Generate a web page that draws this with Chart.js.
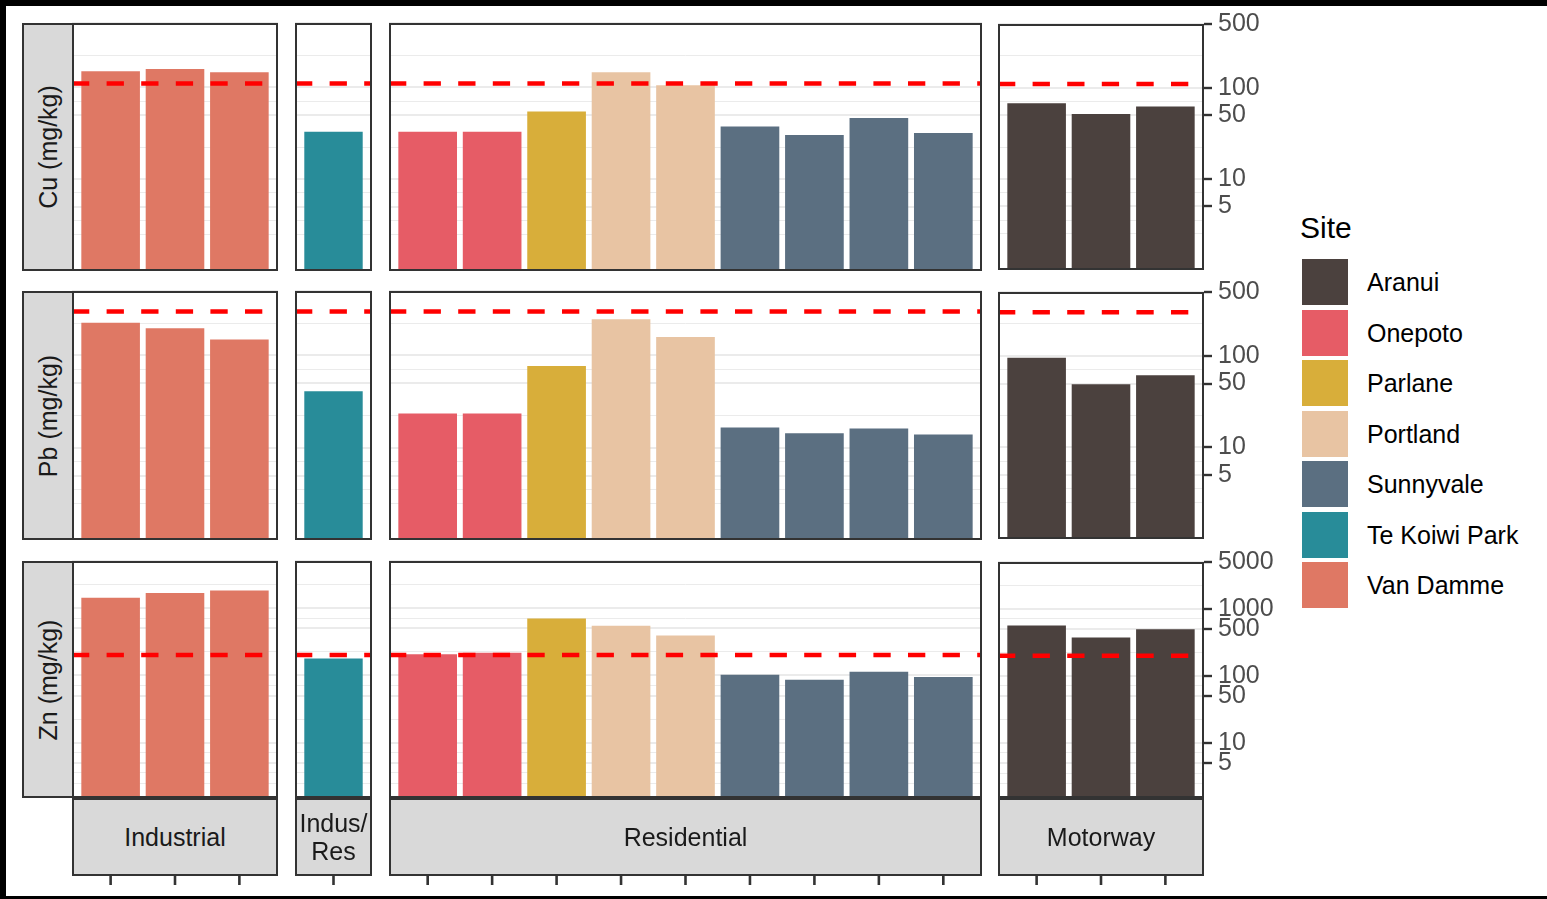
<!DOCTYPE html>
<html>
<head>
<meta charset="utf-8">
<title>Heavy metals by site</title>
<script src="https://cdn.jsdelivr.net/npm/chart.js@4.4.1/dist/chart.umd.min.js"></script>
<style>
  html, body { margin: 0; padding: 0; background: #000; width: 1547px; height: 899px; overflow: hidden; }
  body { font-family: 'Liberation Sans', Arial, sans-serif; }
  #sheet { position: absolute; left: 6px; top: 6px; width: 1541px; height: 890px; background: #fff; }
  #plot { position: absolute; left: 0; top: 0; width: 1547px; height: 896px; overflow: hidden; }
  #plot canvas { position: absolute; }
  .strip {
    position: absolute; box-sizing: border-box; background: #d9d9d9;
    border: 2px solid #333; color: #1a1a1a; font-size: 25px;
    display: flex; align-items: center; justify-content: center;
    text-align: center; line-height: 28px;
  }
  .strip.row span { transform: rotate(-90deg); white-space: nowrap; display: block; }
  #legend { position: absolute; left: 1300px; top: 208px; }
  #legend .title { font-size: 30px; color: #000; height: 40px; line-height: 40px; }
  #legend .item { position: absolute; left: 0; height: 46px; width: 240px; }
  #legend .key { position: absolute; left: 2px; top: 0; width: 46px; height: 46px; }
  #legend .lab { position: absolute; left: 67px; top: 0; line-height: 46px; font-size: 25px; color: #000; white-space: nowrap; }
</style>
</head>
<body>
<div id="sheet"></div>
<div id="plot"></div>
<div id="legend"><div class="title">Site</div></div>
<script>
// sites and their fill colours
const sites = ['Aranui', 'Onepoto', 'Parlane', 'Portland', 'Sunnyvale', 'Te Koiwi Park', 'Van Damme'];
const siteColours = ['#4b413e', '#e65c66', '#d8ae3a', '#e8c4a3', '#5b6f81', '#288c99', '#df7864'];

// land use groups (columns) and the site of every sample in them
const landUses = ['Industrial', 'Indus/<br>Res', 'Residential', 'Motorway'];
const industrialSites = ['Van Damme', 'Van Damme', 'Van Damme'];
const indusResSites = ['Te Koiwi Park'];
const residentialSites = ['Onepoto', 'Onepoto', 'Parlane', 'Portland', 'Portland',
  'Sunnyvale', 'Sunnyvale', 'Sunnyvale', 'Sunnyvale'];
const motorwaySites = ['Aranui', 'Aranui', 'Aranui'];

// metals (rows), guideline values and axis breaks
const metals = ['Cu', 'Pb', 'Zn'];
const guidelineValues = [110, 300, 200];
const cuTicks = [5, 10, 50, 100, 500];
const pbTicks = [5, 10, 50, 100, 500];
const znTicks = [5, 10, 50, 100, 500, 1000, 5000];
const cuLimits = [1, 500];
const pbLimits = [1, 500];
const znLimits = [1.5, 5000];

// concentrations, mg/kg
const cuIndustrial = [148, 157, 144];
const cuIndusRes = [32.5];
const cuResidential = [32.5, 32.5, 54, 144, 104, 37, 30, 46, 31.5];
const cuMotorway = [67, 51, 61.5];

const pbIndustrial = [224, 196, 148];
const pbIndusRes = [40.5];
const pbResidential = [23.3, 23.3, 76.5, 245, 157, 16.4, 14.2, 16, 13.8];
const pbMotorway = [95, 48.6, 61];

const znIndustrial = [1410, 1660, 1800];
const znIndusRes = [176];
const znResidential = [204, 214, 690, 537, 386, 101, 85, 112, 93];
const znMotorway = [556, 369, 490];

const landUseSites = [industrialSites, indusResSites, residentialSites, motorwaySites];
const rows = [
  { ticks: cuTicks, limits: cuLimits, values: [cuIndustrial, cuIndusRes, cuResidential, cuMotorway] },
  { ticks: pbTicks, limits: pbLimits, values: [pbIndustrial, pbIndusRes, pbResidential, pbMotorway] },
  { ticks: znTicks, limits: znLimits, values: [znIndustrial, znIndusRes, znResidential, znMotorway] },
];

// panel layout
const PAD = 20;
const AXIS_W = 90;
const colX = [[72, 278], [295, 372], [389, 982], [998, 1204]];
const rowY = [[23, 271], [291, 540], [561, 798]];
const stripBottom = 876;

const colourOf = {};
sites.forEach((s, i) => { colourOf[s] = siteColours[i]; });

// major breaks plus the log-space midpoints between them
function gridTicks(ticks, min) {
  const logs = ticks.map(Math.log10);
  const all = [logs[0] - (logs[1] - logs[0])].concat(logs);
  const out = ticks.map(v => ({ value: v, main: true }));
  out.push({ value: Math.pow(10, all[0]), main: false });
  for (let i = 1; i < all.length; i++) {
    out.push({ value: Math.pow(10, (all[i - 1] + all[i]) / 2), main: false });
  }
  return out.filter(t => t.value >= min).sort((a, b) => a.value - b.value);
}

const guidelinePlugin = {
  id: 'guideline',
  afterDatasetsDraw(chart, args, opts) {
    const { ctx, chartArea } = chart;
    const y = chart.scales.y.getPixelForValue(opts.value);
    ctx.save();
    ctx.strokeStyle = '#ff0000';
    ctx.lineWidth = 4.5;
    ctx.setLineDash([17.3, 17.3]);
    ctx.beginPath();
    ctx.moveTo(chartArea.left, y);
    ctx.lineTo(chartArea.right, y);
    ctx.stroke();
    ctx.restore();
  }
};

const framePlugin = {
  id: 'frame',
  afterDraw(chart, args, opts) {
    const { ctx, chartArea, scales } = chart;
    ctx.save();
    ctx.strokeStyle = '#333';
    ctx.lineWidth = 2;
    ctx.strokeRect(chartArea.left + 1, chartArea.top + 1,
      chartArea.right - chartArea.left - 2, chartArea.bottom - chartArea.top - 2);
    if (opts.tickTop !== null) {
      // x tick marks under the land use strip
      ctx.lineWidth = 2.6;
      chart.data.datasets[0].data.forEach(pt => {
        const x = scales.x.getPixelForValue(pt.x);
        ctx.beginPath();
        ctx.moveTo(x, opts.tickTop);
        ctx.lineTo(x, opts.tickTop + 9);
        ctx.stroke();
      });
    }
    ctx.restore();
  }
};

const plot = document.getElementById('plot');

rows.forEach((row, r) => {
  const [y0, y1] = rowY[r];
  const isBottom = r === rows.length - 1;
  const padBottom = isBottom ? 100 : PAD;
  const canvasTop = y0 - PAD;

  landUseSites.forEach((siteList, c) => {
    const [x0, x1] = colX[c];
    const values = row.values[c];
    const hasAxis = c === landUseSites.length - 1;
    const n = values.length;
    const unit = (x1 - x0) / (n + 0.2);

    const canvas = document.createElement('canvas');
    canvas.width = x1 - x0 + (hasAxis ? AXIS_W : 0);
    canvas.height = y1 - y0 + PAD + padBottom;
    canvas.style.left = x0 + 'px';
    canvas.style.top = canvasTop + 'px';
    plot.appendChild(canvas);

    new Chart(canvas, {
      type: 'bar',
      data: {
        datasets: [{
          data: values.map((v, i) => ({ x: i, y: v })),
          backgroundColor: siteList.map(s => colourOf[s]),
          borderWidth: 0,
          barThickness: unit * 0.9,
        }]
      },
      options: {
        responsive: false,
        animation: false,
        events: [],
        layout: { padding: { top: PAD, bottom: padBottom, left: 0, right: 0 } },
        plugins: {
          legend: { display: false },
          tooltip: { enabled: false },
          guideline: { value: guidelineValues[r] },
          frame: { tickTop: isBottom ? stripBottom - canvasTop : null },
        },
        scales: {
          x: { type: 'linear', offset: false, min: -0.6, max: n - 0.4, display: false },
          y: {
            type: 'logarithmic',
            position: 'right',
            min: row.limits[0],
            max: row.limits[1],
            afterBuildTicks: scale => { scale.ticks = gridTicks(row.ticks, row.limits[0]); },
            afterFit: scale => { scale.width = hasAxis ? AXIS_W : 0; },
            border: { display: false },
            grid: {
              color: '#ebebeb',
              lineWidth: ctx => (ctx.tick && ctx.tick.main ? 2 : 1),
              drawTicks: hasAxis,
              tickLength: 8,
              tickWidth: 2.4,
              tickColor: ctx => (ctx.tick && ctx.tick.main ? '#333' : 'rgba(0,0,0,0)'),
            },
            ticks: {
              display: hasAxis,
              autoSkip: false,
              padding: 6,
              color: '#4d4d4d',
              font: { family: "'Liberation Sans', Arial, sans-serif", size: 25 },
              callback: (v, i, ticks) => (ticks[i].main ? String(v) : ''),
            }
          }
        }
      },
      plugins: [guidelinePlugin, framePlugin]
    });
  });

  // metal label strip on the left
  const strip = document.createElement('div');
  strip.className = 'strip row';
  strip.style.left = '22px';
  strip.style.top = y0 + 'px';
  strip.style.width = '52px';
  strip.style.height = (y1 - y0) + 'px';
  strip.innerHTML = '<span>' + metals[r] + ' (mg/kg)</span>';
  plot.appendChild(strip);
});

// land use strips under the bottom row
landUses.forEach((name, c) => {
  const [x0, x1] = colX[c];
  const strip = document.createElement('div');
  strip.className = 'strip';
  strip.style.left = x0 + 'px';
  strip.style.top = rowY[rowY.length - 1][1] + 'px';
  strip.style.width = (x1 - x0) + 'px';
  strip.style.height = (stripBottom - rowY[rowY.length - 1][1]) + 'px';
  strip.innerHTML = name;
  plot.appendChild(strip);
});

// site legend
const legend = document.getElementById('legend');
sites.forEach((s, i) => {
  const item = document.createElement('div');
  item.className = 'item';
  item.style.top = (51 + i * 50.5) + 'px';
  item.innerHTML = '<div class="key" style="background:' + siteColours[i] + '"></div><div class="lab">' + s + '</div>';
  legend.appendChild(item);
});
</script>
</body>
</html>
